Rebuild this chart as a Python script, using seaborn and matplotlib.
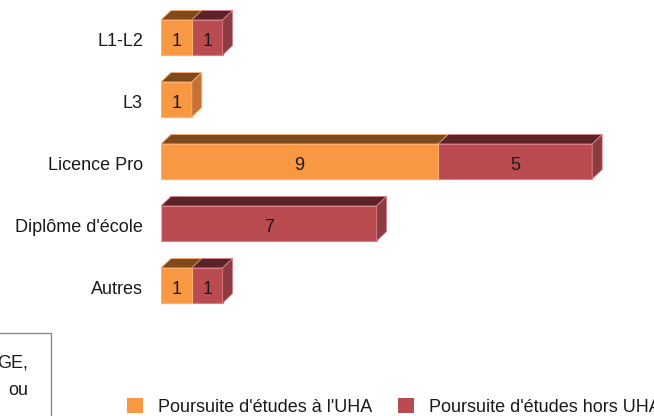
import matplotlib
matplotlib.use("Agg")
import matplotlib.pyplot as plt
import matplotlib.transforms as mtransforms
import seaborn as sns
import pandas as pd
from matplotlib.patches import Polygon, Rectangle, Patch

# ---- data ----
categories = ["L1-L2", "L3", "Licence Pro", "Diplôme d'école", "Autres"]
uha = [1, 1, 9, 0, 1]
hors_uha = [1, 0, 5, 7, 1]
series_names = ["Poursuite d'études à l'UHA", "Poursuite d'études hors UHA"]
box_lines = ["GE,", "ou"]

sns.set_theme(style="white")
plt.rcParams["font.family"] = ["Liberation Sans", "DejaVu Sans"]

df = pd.DataFrame({"cat": categories, "uha": uha, "hors": hors_uha})
df["total"] = df["uha"] + df["hors"]

W, H = 654, 416
fig = plt.figure(figsize=(W / 100, H / 100), dpi=100)
ax = fig.add_axes([161 / W, (H - 330) / H, (W - 161) / W, 330 / H])

c_or, c_red = "#F99843", "#B94B51"
e_or, e_red = "#FFB070", "#DA8088"
top_or, top_red = "#7E4A1C", "#5B2327"
side_or, side_red = "#C47334", "#8C3B40"
txt = "#1a1a1a"
bw = 0.565

sns.barplot(data=df, x="total", y="cat", order=categories, color=c_red,
            width=bw, orient="h", ax=ax, saturation=1, errorbar=None,
            edgecolor=e_red, linewidth=0.8)
n_before = len(ax.patches)
sns.barplot(data=df, x="uha", y="cat", order=categories, color=c_or,
            width=bw, orient="h", ax=ax, saturation=1, errorbar=None,
            edgecolor=e_or, linewidth=0.8)
red_p = ax.patches[:n_before]
or_p = ax.patches[n_before:]

ax.set_xlim(0, (W - 161) / 30.8)
ax.set_ylim((330 - 37.5) / 62.0, -37.5 / 62.0)
ax.set_xticks([])
ax.set_xlabel("")
ax.set_ylabel("")
ax.tick_params(axis="y", length=0, pad=13, labelsize=13, labelcolor=txt)
sns.despine(ax=ax, left=True, bottom=True)
down = mtransforms.ScaledTranslation(0, -1.5 / 72, fig.dpi_scale_trans)
for lab in ax.get_yticklabels():
    lab.set_transform(lab.get_transform() + down)

# ---- 3D faces derived from the bar patches ----
ident = mtransforms.IdentityTransform()
dx, dy = 10, 9.5
for i in range(len(categories)):
    op, rp = or_p[i], red_p[i]
    y0 = rp.get_y()
    h = rp.get_height()
    xo = op.get_x() + op.get_width()
    xt = rp.get_x() + rp.get_width()
    segs = []
    if uha[i] > 0:
        segs.append((0.0, xo, top_or, side_or, e_or, uha[i]))
    if hors_uha[i] > 0:
        segs.append((xo, xt, top_red, side_red, e_red, hors_uha[i]))
    for k, (a, b, ctop, cside, cedge, val) in enumerate(segs):
        (X0, Ya), (X1, Yb) = ax.transData.transform([(a, y0), (b, y0 + h)])
        Yt, Ybot = max(Ya, Yb), min(Ya, Yb)
        topf = Polygon([(X0, Yt), (X1, Yt), (X1 + dx, Yt + dy), (X0 + dx, Yt + dy)],
                       closed=True, facecolor=ctop, edgecolor=cedge, lw=0.6,
                       transform=ident, clip_on=False)
        fig.add_artist(topf)
        if k == len(segs) - 1:
            side = Polygon([(X1, Yt), (X1 + dx, Yt + dy), (X1 + dx, Ybot + dy), (X1, Ybot)],
                           closed=True, facecolor=cside, edgecolor=cedge, lw=0.6,
                           transform=ident, clip_on=False)
            fig.add_artist(side)
        t = ax.text((a + b) / 2, y0 + h / 2, str(val), ha="center",
                    va="center_baseline", fontsize=13, color=txt)
        t.set_transform(t.get_transform() + down)

# ---- partial text box at bottom-left ----
fig.add_artist(Rectangle((-0.01, -0.05), 51.5 / W + 0.01, (H - 333) / H + 0.05,
                         transform=fig.transFigure, fill=False,
                         edgecolor="#8a8a8a", lw=1, clip_on=False))
fig.text(28.5 / W, (H - 368) / H, box_lines[0], ha="right", va="baseline",
         fontsize=13, color=txt)
fig.text(28.5 / W, (H - 395) / H, box_lines[1], ha="right", va="baseline",
         fontsize=13, color=txt)

# ---- legend ----
handles = [Patch(facecolor=c_or, edgecolor="none"), Patch(facecolor=c_red, edgecolor="none")]
fig.legend(handles=handles, labels=series_names, ncol=2, loc="center left",
           bbox_to_anchor=(127 / W, (H - 407) / H), frameon=False, fontsize=13,
           handlelength=0.89, handleheight=0.89, handletextpad=0.83,
           columnspacing=1.44, borderpad=0, borderaxespad=0, labelcolor=txt)

fig.savefig("out.png", dpi=100)
